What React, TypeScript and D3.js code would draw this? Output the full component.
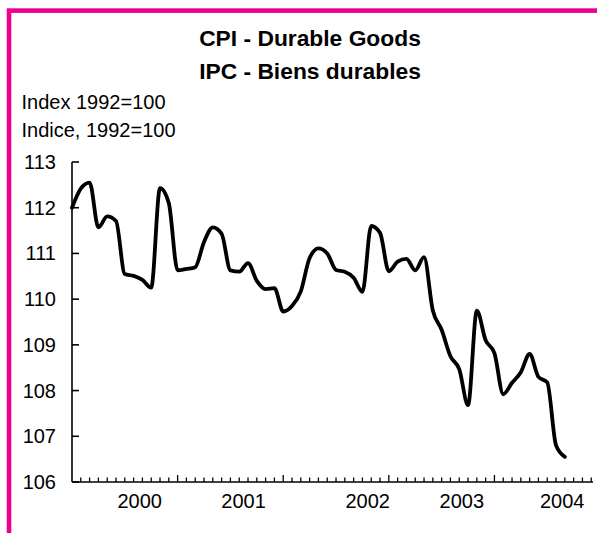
import { useEffect, useRef } from 'react';
import * as d3 from 'd3';

// Monthly CPI durable goods index (1992=100), Jan 2000 onward
const cpiValues = [
    112.0, 112.42, 112.55, 111.57, 111.81, 111.71, 110.55, 110.51, 110.42, 110.25,
    112.43, 112.1, 110.63, 110.66, 110.7, 111.25, 111.57, 111.43, 110.63, 110.6,
    110.79, 110.4, 110.22, 110.24, 109.73, 109.85, 110.17, 110.9, 111.11, 111.0,
    110.64, 110.6, 110.47, 110.16, 111.6, 111.45, 110.61, 110.82, 110.88, 110.63,
    110.92, 109.75, 109.33, 108.75, 108.47, 107.68, 109.75, 109.1, 108.82, 107.92,
    108.17, 108.4, 108.8, 108.3, 108.18, 106.8, 106.55,
];

const yTicks = [106, 107, 108, 109, 110, 111, 112, 113];
const yearLabels = ['2000', '2001', '2002', '2003', '2004'];
// where Excel put each year label, in months from Jan 2000
const yearLabelMonths = [7.7, 19.5, 33.6, 44.3, 55.7];
const majorTickMonths = [12, 24, 36, 48];

const titleLines = ['CPI - Durable Goods', 'IPC - Biens durables'];
const unitLines = ['Index 1992=100', 'Indice, 1992=100'];

const W = 597;
const H = 533;
const FONT = '"Liberation Sans", Arial, sans-serif';
const PINK = '#ec008c';

export default function App() {
    const ref = useRef<SVGSVGElement>(null);

    useEffect(() => {
        if (!ref.current) return;
        const svg = d3.select(ref.current);
        svg.selectAll('*').remove();

        const x = d3.scaleLinear().domain([0, 59.2]).range([72, 593]);
        const y = d3.scaleLinear().domain([106, 113]).range([482, 162]);

        svg.append('rect')
            .attr('width', W).attr('height', H).attr('fill', '#fff');

        // pink frame, only top and left visible
        svg.append('rect')
            .attr('x', 9).attr('y', 10.6)
            .attr('width', 800).attr('height', 800)
            .attr('fill', 'none')
            .attr('stroke', PINK)
            .attr('stroke-width', 4.6);

        // titles
        svg.selectAll('text.title')
            .data(titleLines)
            .enter().append('text')
            .attr('class', 'title')
            .attr('x', 310)
            .attr('y', (_, i) => 46 + i * 32.5)
            .attr('text-anchor', 'middle')
            .attr('font-family', FONT)
            .attr('font-weight', 'bold')
            .attr('font-size', 22.8)
            .text(d => d);

        svg.selectAll('text.unit')
            .data(unitLines)
            .enter().append('text')
            .attr('class', 'unit')
            .attr('x', 21.5)
            .attr('y', (_, i) => 109 + i * 27.5)
            .attr('font-family', FONT)
            .attr('font-size', 20)
            .attr('fill', '#000')
            .text(d => d);

        const axes = svg.append('g')
            .attr('stroke', '#000')
            .attr('stroke-width', 1.6)
            .attr('fill', 'none');

        // y axis, ticks pointing inward
        axes.append('line')
            .attr('x1', x(0)).attr('x2', x(0))
            .attr('y1', y(113)).attr('y2', y(106));
        yTicks.forEach(t => {
            axes.append('line')
                .attr('x1', x(0)).attr('x2', x(0) + 7)
                .attr('y1', y(t)).attr('y2', y(t));
        });

        // x axis with monthly minor ticks, taller at year boundaries
        axes.append('line')
            .attr('x1', x(0)).attr('x2', x.range()[1])
            .attr('y1', y(106)).attr('y2', y(106));
        d3.range(1, 60).forEach(m => {
            const major = majorTickMonths.includes(m);
            axes.append('line')
                .attr('stroke-width', 1.3)
                .attr('x1', x(m)).attr('x2', x(m))
                .attr('y1', y(106)).attr('y2', y(106) - (major ? 7 : 4.5));
        });

        svg.selectAll('text.ytick')
            .data(yTicks)
            .enter().append('text')
            .attr('class', 'ytick')
            .attr('x', 56)
            .attr('y', d => y(d))
            .attr('dy', '0.35em')
            .attr('text-anchor', 'end')
            .attr('font-family', FONT)
            .attr('font-size', 20)
            .attr('fill', '#000')
            .text(d => d);

        svg.selectAll('text.xtick')
            .data(yearLabels)
            .enter().append('text')
            .attr('class', 'xtick')
            .attr('x', (_, i) => x(yearLabelMonths[i]))
            .attr('y', 508)
            .attr('text-anchor', 'middle')
            .attr('font-family', FONT)
            .attr('font-size', 20)
            .attr('fill', '#000')
            .text(d => d);

        // smoothed line like the original
        const line = d3.line<number>()
            .x((_, i) => x(i))
            .y(d => y(d))
            .curve(d3.curveMonotoneX);

        svg.append('path')
            .datum(cpiValues)
            .attr('d', line)
            .attr('fill', 'none')
            .attr('stroke', '#000')
            .attr('stroke-width', 3.8)
            .attr('stroke-linejoin', 'round')
            .attr('stroke-linecap', 'round');
    }, []);

    return (
        <svg
            ref={ref}
            width={W}
            height={H}
            style={{ position: 'absolute', left: 0, top: 0, display: 'block' }}
        />
    );
}
